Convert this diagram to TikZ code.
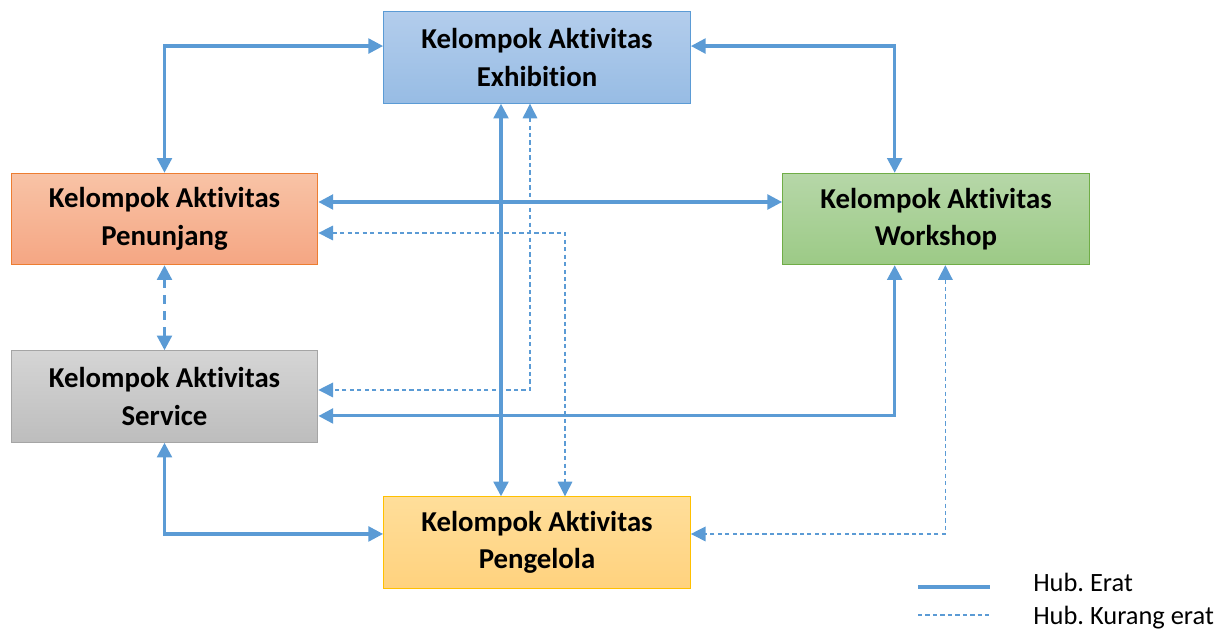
\documentclass[tikz,border=0pt]{standalone}
\usepackage{fontspec}
\setmainfont{Carlito}[Ligatures={NoCommon}]
\usepackage{xcolor}
\usepackage{tikz}
\usetikzlibrary{arrows.meta, calc, positioning}
\frenchspacing
\definecolor{Link}{HTML}{5B9BD5}
\definecolor{ExhTop}{HTML}{B3CDEC}
\definecolor{ExhBot}{HTML}{97BCE4}
\definecolor{PenTop}{HTML}{F8C3A6}
\definecolor{PenBot}{HTML}{F5A683}
\definecolor{PenLine}{HTML}{ED7D31}
\definecolor{WorTop}{HTML}{B6D7A8}
\definecolor{WorBot}{HTML}{9CCA86}
\definecolor{WorLine}{HTML}{70AD47}
\definecolor{SerTop}{HTML}{D5D5D5}
\definecolor{SerBot}{HTML}{BDBDBD}
\definecolor{SerLine}{HTML}{A5A5A5}
\definecolor{PglTop}{HTML}{FFDE9A}
\definecolor{PglBot}{HTML}{FFD27E}
\definecolor{PglLine}{HTML}{FFC000}
\tikzset{
  group/.style={minimum width=230pt, minimum height=68.5pt, inner sep=2pt, align=center,
    font=\fontsize{21.6}{28}\selectfont\bfseries, line width=0.8pt},
  erat/.style={arrows={Triangle[length=11pt, width=11pt]-Triangle[length=11pt, width=11pt]}, line width=2.3pt, color=Link},
  kurang/.style={arrows={Triangle[length=11pt, width=11pt]-Triangle[length=11pt, width=11pt]}, line width=0.9pt, color=Link, dash pattern=on 3.2pt off 2.4pt},
  kurangtebal/.style={erat, dash pattern=on 7pt off 5pt},
  legend/.style={anchor=base west, inner sep=0pt, font=\fontsize{19.8}{24}\selectfont},
}

\begin{document}
\begin{tikzpicture}[x=0.75pt, y=0.75pt]
  \useasboundingbox (0,0) rectangle (1232,629);
  % Activity groups
  \node[group, top color=ExhTop, bottom color=ExhBot, draw=Link] (exh) at (537,571.5) {Kelompok Aktivitas\\Exhibition};
  \node[group, top color=PenTop, bottom color=PenBot, draw=PenLine] (pen) at (164.5,410) {Kelompok Aktivitas\\Penunjang};
  \node[group, top color=WorTop, bottom color=WorBot, draw=WorLine] (wor) at (936,410) {Kelompok Aktivitas\\Workshop};
  \node[group, top color=SerTop, bottom color=SerBot, draw=SerLine] (ser) at (164.5,232.5) {Kelompok Aktivitas\\Service};
  \node[group, top color=PglTop, bottom color=PglBot, draw=PglLine] (pgl) at (537,86.5) {Kelompok Aktivitas\\Pengelola};

  % Close relations
  \draw[erat] (pen.north) |- ([yshift=8.6pt]exh.west);
  \draw[erat] ([yshift=8.6pt]exh.east) -| ([xshift=-31pt]wor.north);
  \draw[erat] ([yshift=12.75pt]pen.east) -- ([yshift=12.75pt]wor.west);
  \draw[erat] ([xshift=-27pt]exh.south) -- ([xshift=-27pt]pgl.north);
  \draw[erat] ([yshift=-14.6pt]ser.east) -| ([xshift=-31pt]wor.south);
  \draw[erat] (ser.south) |- ([yshift=6.4pt]pgl.west);

  % Weaker relations
  \draw[kurangtebal] (pen.south) -- (ser.north);
  \draw[kurang] ([yshift=-10.5pt]pen.east) -| ([xshift=21pt]pgl.north);
  \draw[kurang] ([xshift=-5.25pt]exh.south) |- ([yshift=4.9pt]ser.east);
  \draw[kurang] ([xshift=7pt]wor.south) |- ([yshift=6.4pt]pgl.east);

  % Legend
  \coordinate (l1a) at (918,42);
  \coordinate (l1b) at (990,42);
  \coordinate (l2a) at (918,14);
  \coordinate (l2b) at (990,14);
  \draw[line width=3pt, color=Link] (l1a) -- (l1b);
  \draw[line width=0.9pt, color=Link, dash pattern=on 3.2pt off 2.4pt] (l2a) -- (l2b);
  \node[legend] (erattxt) at (1033,37.5) {Hub. Erat};
  \node[legend] (kurangtxt) at (1033,5) {Hub. Kurang erat};
\end{tikzpicture}
\end{document}
